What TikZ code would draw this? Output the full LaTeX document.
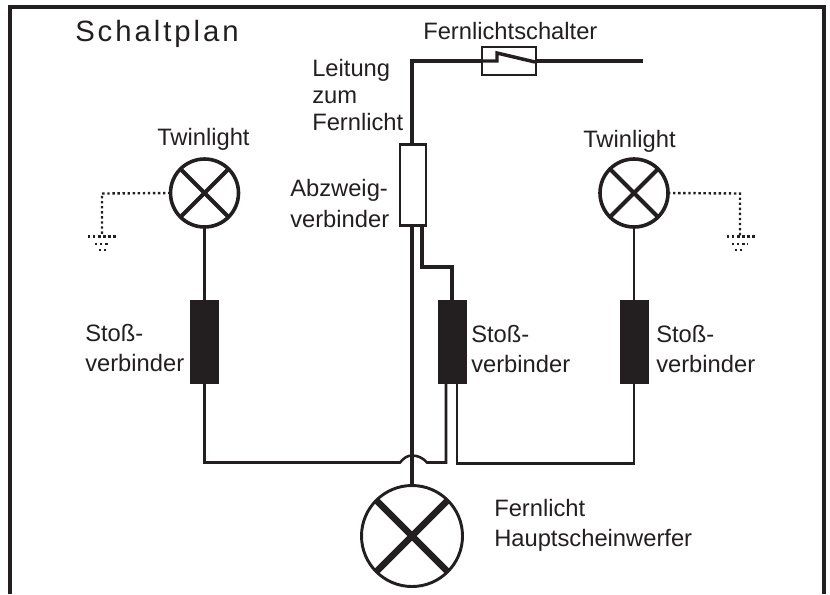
\documentclass[tikz,border=0pt]{standalone}
\usepackage{fontspec}
\setmainfont{Liberation Sans}
\newfontfamily\titlefont[LetterSpace=10]{Liberation Sans}
\usetikzlibrary{calc}
\definecolor{ink}{HTML}{231F20}
\begin{document}
\begin{tikzpicture}[x=0.75pt,y=-0.75pt,line join=miter]
      \tikzset{lamp/.style={draw=ink,circle,inner sep=0pt,outer sep=0pt,
          line width=2.7pt,minimum size=#1},
        connector/.style={draw=ink,fill=ink,inner sep=0pt,outer sep=0pt,
          minimum width=21pt,minimum height=62pt},
        lamp cross/.style={draw=ink,line width=3pt},
        thin wire/.style={draw=ink,line width=1.9pt},
        thick wire/.style={draw=ink,line width=3pt},
        earth/.style={draw=ink,line width=1.8pt,dotted},
        caption/.style={text=ink,font=\fontsize{17.8}{22.6}\selectfont,align=left,
          inner sep=0pt,anchor=west}
      }
      \useasboundingbox (0,0) rectangle (830,594);

      % frame, open at the bottom
      \coordinate (FL) at (10,594);
      \coordinate (FR) at (823.5,594);
      \draw [ink,line width=3pt] (FL)--(10,6.5)--(823.5,6.5)--(FR);
      \node [caption,font=\titlefont\fontsize{22}{24}\selectfont] (title) at (75,34) {Schaltplan};

      % lamps
      \node [lamp=68pt*0.75] (TL) at (204.5,193) {};
      \node [lamp=68pt*0.75] (TR) at (634,193) {};
      \node [lamp=101pt*0.75,line width=2.2pt] (HL) at (412,536) {};
      \foreach \l in {TL,TR}{
        \draw [lamp cross] (\l.45)--(\l.225);
        \draw [lamp cross] (\l.135)--(\l.315);
      }
      \draw [ink,line width=5pt] (HL.45)--(HL.225);
      \draw [ink,line width=5pt] (HL.135)--(HL.315);

      % connectors
      \node [connector] (SL) at (204.5,341.5) {};
      \node [connector] (SM) at (452,341.5) {};
      \node [connector] (SR) at (634,341.5) {};
      \node [draw=ink,line width=1.9pt,inner sep=0pt,outer sep=0pt,
        minimum width=19.5pt,minimum height=61pt] (AZ) at (413,185) {};
      \node [draw=ink,line width=1.9pt,inner sep=0pt,outer sep=0pt,
        minimum width=40.5pt,minimum height=21pt] (FS) at (509,61) {};

      % high beam line and switch
      \coordinate (LE) at (643,61);
      \coordinate (AZtop) at (412,144);
      \coordinate (AZbot) at (412,226);
      \coordinate (AZout) at (422,226);
      \draw [thick wire] (FS.west)--(412,61)--(AZtop);
      \draw [thick wire] (FS.east)--(LE);
      \draw [thin wire,line width=2.6pt] (FS.west)--(497,61)--(497,53)--(535,62);
      \draw [thick wire] (AZbot)--(HL.north -| AZbot);
      \draw [thin wire,line width=2.6pt] (AZout)--(422,267)--(452,267)--(SM.north);

      % thin wires
      \draw [thin wire] (TL.south)--(SL.north);
      \draw [thin wire] (TR.south)--(SR.north);
      \coordinate (SMa) at (446,383);
      \coordinate (SMb) at (457,383);
      \draw [thin wire] (SL.south)--(204.5,462.5)--(400,462.5)
        .. controls (404,458) and (407,455.5) .. (412,455.5)
        .. controls (418,455.5) and (423,458) .. (427,462.5)
        --(446,462.5)--(SMa);
      \draw [thin wire] (SMb)--(457,463.5)--(634,463.5)--(SR.south);

      % earth lines
      \draw [earth] (TL.west)--(102,193.5)--(102,236);
      \draw [earth] (88,236.5)--(116,236.5);
      \draw [earth] (95,244)--(110,244);
      \draw [earth] (99,250)--(107,250);
      \draw [earth] (TR.east)--(740,193.5)--(740,236);
      \draw [earth] (727,236.5)--(755,236.5);
      \draw [earth] (732,244)--(748,244);
      \draw [earth] (735,250)--(743,250);

      % labels
      \node [caption] (Lfs) at (423,31) {Fernlichtschalter};
      \node [caption,font=\fontsize{17.8}{20.5}\selectfont] (Llt) at (312,95) {Leitung\\zum\\Fernlicht};
      \node [caption] (Ltl) at (157,139) {Twinlight};
      \node [caption] (Ltr) at (583,141) {Twinlight};
      \node [caption] (Laz) at (290,203.5) {Abzweig-\\verbinder};
      \node [caption] (Lsl) at (85,348) {Stoß-\\verbinder};
      \node [caption] (Lsm) at (471,349) {Stoß-\\verbinder};
      \node [caption] (Lsr) at (656,349) {Stoß-\\verbinder};
      \node [caption] (Lhl) at (494,525.5) {Fernlicht\\Hauptscheinwerfer};
    \end{tikzpicture}
\end{document}
